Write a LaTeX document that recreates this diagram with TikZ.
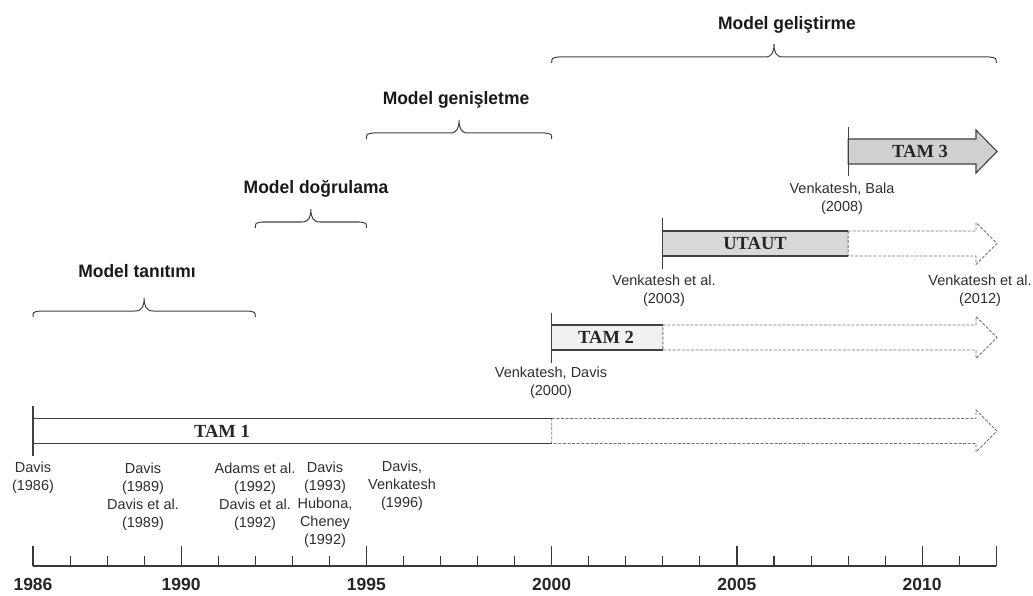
\documentclass[tikz,border=0pt]{standalone}
\usepackage{fontspec}
\setmainfont{Liberation Sans}
\newfontfamily\headfont[FakeStretch=0.97]{Liberation Sans}
\newfontfamily\tamfont{Liberation Serif}

% model bar: solid part from #1 to #2, dashed continuation to the arrow tip
\newcommand{\modelbar}[4]{% #1 start x, #2 split x, #3 centre y, #4 fill colour
  \fill[#4] (#1,#3-12.5) rectangle (#2,#3+12.5);
  \draw[dashedge, fill=white] (#2,#3-12.5) -- (976,#3-12.5) -- (976,#3-21)
        -- (997,#3) -- (976,#3+21) -- (976,#3+12.5) -- (#2,#3+12.5) -- cycle;
  \draw[solidedge] (#2,#3-12.5) -- (#1,#3-12.5) (#1,#3+12.5) -- (#2,#3+12.5);
  \draw[solidedge] (#1,#3-25) -- (#1,#3+25);
}

% curly brace over a period, opening downwards
\newcommand{\period}[3]{% #1 left x, #2 right x, #3 bar y
  \draw[bracestyle] (#1,#3+6) .. controls (#1,#3+1) .. (#1+7,#3)
    -- ({(#1+#2)/2-9},#3) .. controls ({(#1+#2)/2-2},#3) and ({(#1+#2)/2},#3-5) .. ({(#1+#2)/2},#3-13)
    .. controls ({(#1+#2)/2},#3-5) and ({(#1+#2)/2+2},#3) .. ({(#1+#2)/2+9},#3)
    -- (#2-7,#3) .. controls (#2,#3+1) .. (#2,#3+6);
}

\definecolor{tamtwo}{HTML}{F1F1F1}
\definecolor{utaut}{HTML}{D9D9D9}
\definecolor{tamthree}{HTML}{D0D0D0}

\begin{document}
\begin{tikzpicture}[x=1pt, y=-1pt,
  lbl/.style={align=center, text=black!82, font=\fontsize{14.5}{18}\selectfont, inner sep=0pt},
  head/.style={text=black!90, font=\headfont\bfseries\fontsize{18}{20}\selectfont, inner sep=0pt},
  yearlbl/.style={text=black!85, font=\bfseries\fontsize{17.5}{20}\selectfont, inner sep=0pt},
  tamlbl/.style={text=black!85, font=\tamfont\bfseries\fontsize{18.5}{20}\selectfont, inner sep=0pt},
  solidedge/.style={draw=black!75, line width=1.1pt},
  dashedge/.style={draw=black!55, line width=0.9pt, dash pattern=on 3pt off 1.6pt},
  bracestyle/.style={draw=black!75, line width=1pt},
  axisline/.style={draw=black!78, line width=1.1pt},
]
\useasboundingbox (0,0) rectangle (1033,596);

% ---- time axis ----
\draw[axisline] (33,566) -- (996.3,566);
\foreach \i in {0,...,26}
  \draw[axisline] ({33+\i*37.05},566) -- ({33+\i*37.05},556);
\foreach \i in {0,4,9,14,19,24,26}
  \draw[axisline] ({33+\i*37.05},566) -- ({33+\i*37.05},546);
\foreach \y/\i in {1986/0,1990/4,1995/9,2000/14,2005/19,2010/24}
  \node[yearlbl] (y\y) at ({33+\i*37.05},584) {\y};

% ---- model bars ----
\modelbar{33}{551.7}{431}{white}
\modelbar{551.7}{662.85}{337.5}{tamtwo}
\modelbar{662.85}{848.1}{243.5}{utaut}
\draw[solidedge, fill=tamthree] (848.1,139) -- (976,139) -- (976,130) -- (997,151.5)
      -- (976,173) -- (976,164) -- (848.1,164) -- cycle;
\draw[solidedge] (848.1,127) -- (848.1,176);

\node[tamlbl] (tam1) at (222,431) {TAM 1};
\node[tamlbl] (tam2) at (606,337.5) {TAM 2};
\node[tamlbl] (utautlbl) at (755,243.5) {UTAUT};
\node[tamlbl] (tam3) at (920,151.5) {TAM 3};

% ---- references ----
\node[lbl] (r1986) at (33,478) {Davis\\(1986)};
\node[lbl] (r1989) at (143,496.5) {Davis\\(1989)\\Davis et al.\\(1989)};
\node[lbl] (r1992a) at (255,496.5) {Adams et al.\\(1992)\\Davis et al.\\(1992)};
\node[lbl] (r1993) at (325,505) {Davis\\(1993)\\Hubona,\\Cheney\\(1992)};
\node[lbl] (r1996) at (402,486) {Davis,\\Venkatesh\\(1996)};
\node[lbl] (r2000) at (551,383) {Venkatesh, Davis\\(2000)};
\node[lbl] (r2003) at (664,291) {Venkatesh et al.\\(2003)};
\node[lbl] (r2012) at (980,291) {Venkatesh et al.\\(2012)};
\node[lbl] (r2008) at (842,199) {Venkatesh, Bala\\(2008)};

% ---- periods ----
\period{33}{255.3}{311}
\period{255.3}{366.45}{222}
\period{366.45}{551.7}{133}
\period{551.7}{996.3}{57}

\node[head] (p1) at (137,271) {Model tanıtımı};
\node[head] (p2) at (316,189) {Model doğrulama};
\node[head] (p3) at (456,100) {Model genişletme};
\node[head] (p4) at (787,25) {Model geliştirme};
\end{tikzpicture}
\end{document}
